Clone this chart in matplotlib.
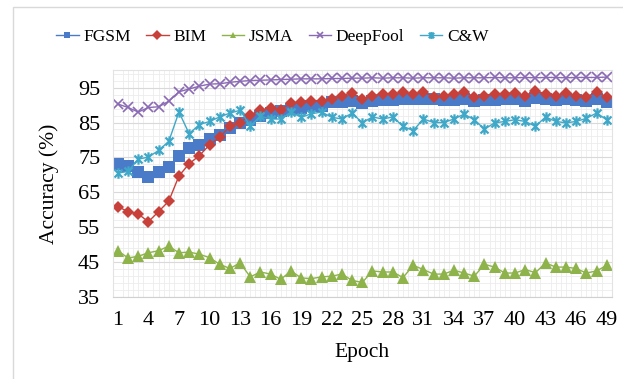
import numpy as np
import matplotlib
matplotlib.use("Agg")
import matplotlib.pyplot as plt
from matplotlib.path import Path
from matplotlib.patches import Rectangle

plt.rcParams["font.family"] = ["Liberation Serif", "DejaVu Serif"]

epochs = list(range(1, 50))

fgsm = [73.0, 72.5, 70.8, 69.3, 70.7, 72.4, 75.5, 77.8, 78.6, 80.3,
        81.5, 83.5, 84.8, 85.6, 86.8, 87.7, 88.2, 88.9, 89.2, 89.6,
        89.6, 90.8, 90.8, 91.1, 90.6, 91.2, 91.4, 91.4, 91.6, 91.8,
        91.6, 91.8, 91.5, 91.5, 91.8, 91.2, 91.4, 91.5, 91.8, 91.6,
        91.3, 92.0, 91.6, 91.5, 91.8, 91.5, 91.2, 91.8, 91.0]
bim = [60.9, 59.5, 58.8, 56.6, 59.5, 62.5, 69.7, 73.2, 75.5, 78.6,
       80.8, 83.9, 85.0, 87.2, 88.5, 89.2, 88.7, 90.6, 90.8, 91.1,
       91.1, 91.7, 92.7, 93.5, 91.6, 92.7, 93.2, 93.2, 93.7, 93.2,
       93.8, 92.3, 92.7, 93.2, 93.8, 92.3, 92.7, 93.2, 93.2, 93.5,
       92.7, 94.1, 93.2, 92.7, 93.5, 92.7, 92.3, 93.8, 92.3]
jsma = [48.3, 46.2, 46.7, 47.7, 48.3, 49.6, 47.7, 47.9, 47.3, 46.3,
        44.4, 43.2, 44.8, 40.8, 42.2, 41.6, 40.1, 42.5, 40.5, 40.3,
        40.8, 41.0, 41.6, 39.8, 39.2, 42.5, 42.2, 42.2, 40.6, 44.1,
        42.9, 41.6, 41.6, 42.7, 41.9, 41.0, 44.4, 43.6, 41.9, 41.9,
        42.9, 42.0, 44.8, 43.6, 43.6, 43.2, 41.9, 42.5, 44.1]
deepfool = [90.3, 89.3, 88.0, 89.3, 89.5, 91.1, 93.8, 94.6, 95.4, 96.0,
            96.1, 96.5, 96.8, 97.0, 97.1, 97.2, 97.3, 97.4, 97.5, 97.5,
            97.5, 97.6, 97.6, 97.7, 97.7, 97.8, 97.7, 97.8, 97.8, 97.7,
            97.8, 97.8, 97.8, 97.7, 97.8, 97.8, 97.8, 97.9, 97.8, 97.8,
            97.9, 97.8, 97.9, 97.9, 97.8, 97.9, 97.9, 97.9, 98.0]
cw = [70.5, 71.0, 74.5, 75.1, 77.0, 79.6, 88.0, 81.8, 84.4, 85.3,
      86.6, 87.7, 88.5, 84.0, 86.8, 86.0, 86.0, 88.0, 86.5, 87.5,
      88.0, 86.5, 86.0, 87.7, 84.9, 86.6, 86.0, 86.6, 83.9, 82.7,
      86.0, 85.0, 85.0, 86.0, 87.4, 85.8, 83.1, 84.9, 85.3, 85.8,
      85.3, 83.9, 86.6, 85.3, 84.9, 85.3, 86.2, 87.7, 85.8]

labels = ["FGSM", "BIM", "JSMA", "DeepFool", "C&W"]
colors = ["#4a7bc8", "#c8403a", "#8db34a", "#8a6ab4", "#3fa8c8"]

# Excel-like "star" marker: an x with a vertical bar
star = Path([(-1, -1), (1, 1), (-1, 1), (1, -1), (0, -1.3), (0, 1.3)],
            [Path.MOVETO, Path.LINETO] * 3)

styles = [
    dict(marker="s", ms=8.5, mew=0),
    dict(marker="D", ms=6.3, mew=0),
    dict(marker="^", ms=8.5, mew=0),
    dict(marker="x", ms=6.5, mew=1.2),
    dict(marker=star, ms=7.5, mew=1.6),
]

fig = plt.figure(figsize=(6.23, 3.79), dpi=100)
ax = fig.add_axes([0.181, 0.216, 0.801, 0.599])

for y, lab, col, st in zip([fgsm, bim, jsma, deepfool, cw], labels, colors, styles):
    ax.plot(epochs, y, color=col, lw=1.0, label=lab,
            markerfacecolor=col, markeredgecolor=col, **st)

ax.set_xlim(0.5, 49.5)
ax.set_ylim(35, 100)
ax.set_yticks(np.arange(35, 100, 10))
ax.set_yticks(np.arange(35, 101, 2), minor=True)
ax.set_xticks(epochs[::3])
ax.set_xticks(np.arange(0.5, 50, 0.5), minor=True)
ax.grid(True, which="major", axis="y", color="#d9d9d9", lw=0.8)
ax.grid(True, which="minor", axis="both", color="#ececec", lw=0.6)
ax.set_axisbelow(True)
ax.tick_params(which="both", length=0, labelsize=16)
ax.tick_params(axis="y", pad=9)
ax.tick_params(axis="x", pad=10)
for sp in ax.spines.values():
    sp.set_color("#e3e3e3")
ax.spines["bottom"].set_color("#d0d0d0")

ax.set_xlabel("Epoch", fontsize=15.5, labelpad=9)
ax.set_ylabel("Accuracy (%)", fontsize=15.5, labelpad=14)

leg = fig.legend(loc="center", bbox_to_anchor=(0.437, 0.902), ncol=5, frameon=False,
                 fontsize=12.5, handlelength=1.3, handletextpad=0.25, columnspacing=0.9)
for h in leg.legend_handles:
    h.set_markersize(5)

fig.patches.append(Rectangle((0.021, -0.05), 1.2, 0.0315 + 1.0, transform=fig.transFigure,
                             fill=False, edgecolor="#d9d9d9", lw=1.0))

fig.savefig("out.png", dpi=100)
